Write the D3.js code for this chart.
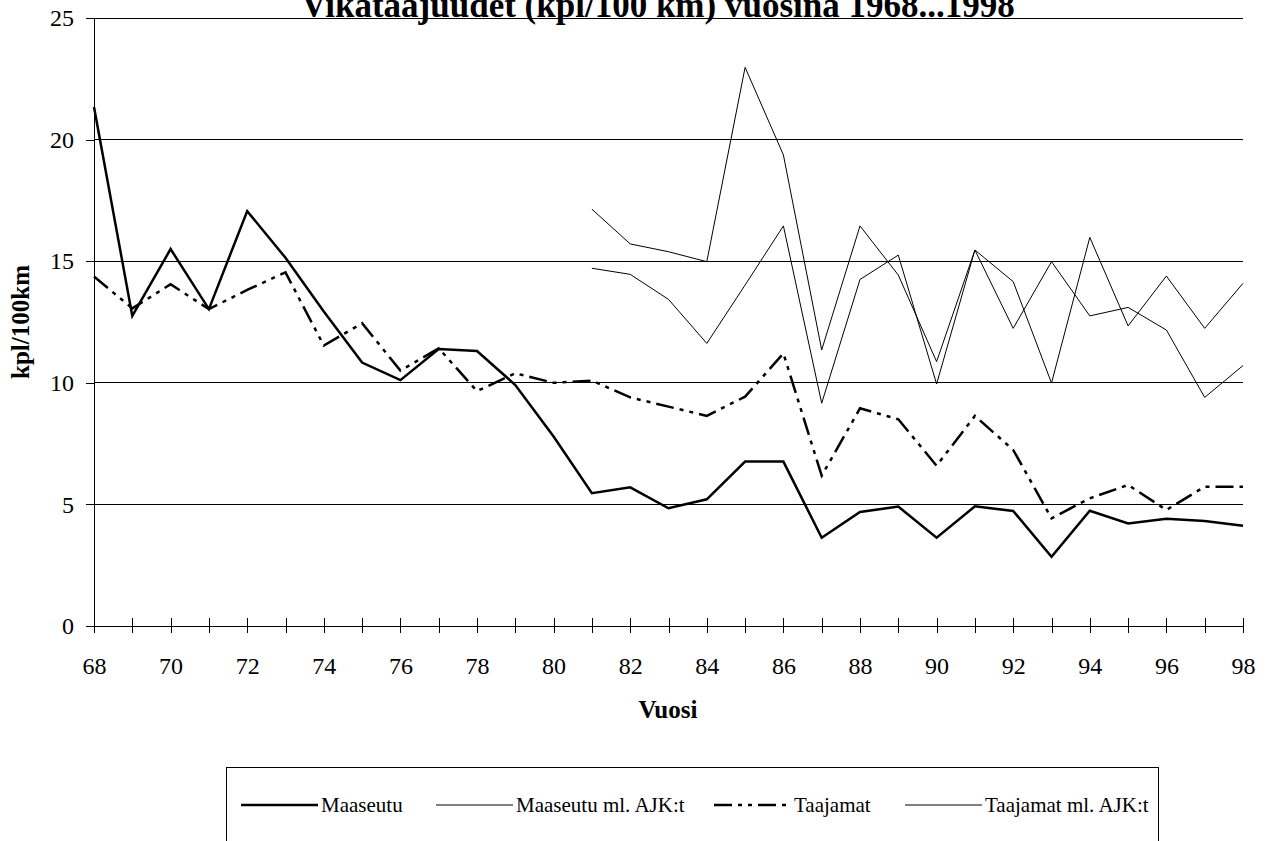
<!DOCTYPE html>
<html>
<head>
<meta charset="utf-8">
<script src="https://cdn.jsdelivr.net/npm/d3@7"></script>
<style>
body { margin: 0; background: #fff; }
svg text { font-family: "Liberation Serif", "Times New Roman", serif; fill: #000; }
</style>
</head>
<body>
<div id="app"></div>
<script>
// vuodet 1968...1998
const years = [68, 69, 70, 71, 72, 73, 74, 75, 76, 77, 78, 79, 80, 81, 82, 83,
    84, 85, 86, 87, 88, 89, 90, 91, 92, 93, 94, 95, 96, 97, 98];
const yTicks = [0, 5, 10, 15, 20, 25];

const maaseutu = [21.34, 12.75, 15.5, 13.03, 17.06, 15.14, 12.93, 10.83, 10.11, 11.39,
    11.31, 9.91, 7.79, 5.46, 5.70, 4.84, 5.21, 6.76, 6.76, 3.63, 4.69, 4.91, 3.63,
    4.92, 4.73, 2.85, 4.74, 4.22, 4.41, 4.32, 4.12];
const maaseutuAJK = [null, null, null, null, null, null, null, null, null, null, null,
    null, null, 17.14, 15.71, 15.39, 14.98, 22.97, 19.37, 11.35, 16.45, 14.43, 10.87,
    15.46, 14.16, 9.99, 15.98, 12.34, 14.39, 12.24, 14.09];
const taajamat = [14.37, 13.06, 14.05, 13.03, 13.82, 14.54, 11.53, 12.45, 10.5, 11.42,
    9.66, 10.39, 10.0, 10.09, 9.40, 9.02, 8.64, 9.43, 11.21, 6.18, 8.95, 8.50, 6.59,
    8.64, 7.24, 4.43, 5.25, 5.80, 4.77, 5.73, 5.73];
const taajamatAJK = [null, null, null, null, null, null, null, null, null, null, null,
    null, null, 14.71, 14.46, 13.43, 11.62, 14.02, 16.45, 9.16, 14.25, 15.25, 9.95,
    15.46, 12.24, 14.98, 12.75, 13.1, 12.17, 9.40, 10.71];

const bounds = { left: 94, right: 1243, top: 18, bottom: 626 };
const serif = '"Liberation Serif", "Times New Roman", serif';

const svg = d3.select('#app')
    .append('svg')
    .attr('width', 1269)
    .attr('height', 841);

const xScale = d3.scaleLinear().domain([68, 98]).range([bounds.left, bounds.right]);
const yScale = d3.scaleLinear().domain([0, 25]).range([bounds.bottom, bounds.top]);

// vaakaviivat
svg.append('g')
    .selectAll('line')
    .data(yTicks.filter(d => d > 0))
    .join('line')
    .attr('x1', bounds.left)
    .attr('x2', bounds.right)
    .attr('y1', d => yScale(d))
    .attr('y2', d => yScale(d))
    .attr('stroke', '#000')
    .attr('shape-rendering', 'crispEdges');

// y-akseli
const yAxis = svg.append('g')
    .attr('transform', `translate(${bounds.left},0)`)
    .attr('font-family', serif)
    .call(d3.axisLeft(yScale).tickValues(yTicks).tickSize(8).tickSizeOuter(0).tickPadding(12));
yAxis.selectAll('text').attr('font-size', 24);
yAxis.selectAll('line, path').attr('shape-rendering', 'crispEdges');

// x-akseli
const xAxis = svg.append('g')
    .attr('transform', `translate(0,${bounds.bottom})`)
    .attr('font-family', serif)
    .call(d3.axisBottom(xScale)
        .tickValues(years)
        .tickSize(7)
        .tickSizeOuter(0)
        .tickFormat(d => d % 2 === 0 ? d : ''));
xAxis.selectAll('.tick line').attr('y1', -8);
xAxis.selectAll('text').attr('font-size', 24).attr('dy', 0).attr('y', 48);
xAxis.selectAll('line, path').attr('shape-rendering', 'crispEdges');

// otsikot
svg.append('text')
    .attr('x', 658)
    .attr('y', 17)
    .attr('text-anchor', 'middle')
    .attr('font-size', 35)
    .attr('font-weight', 'bold')
    .text('Vikataajuudet (kpl/100 km) vuosina 1968...1998');

svg.append('text')
    .attr('x', 668)
    .attr('y', 718)
    .attr('text-anchor', 'middle')
    .attr('font-size', 25)
    .attr('font-weight', 'bold')
    .text('Vuosi');

svg.append('text')
    .attr('transform', 'translate(29,322) rotate(-90)')
    .attr('text-anchor', 'middle')
    .attr('font-size', 25)
    .attr('font-weight', 'bold')
    .text('kpl/100km');

// sarjat
const series = [
    { name: 'Maaseutu', values: maaseutu, width: 2.5, dash: null },
    { name: 'Maaseutu ml. AJK:t', values: maaseutuAJK, width: 1, dash: null },
    { name: 'Taajamat', values: taajamat, width: 2.5, dash: '18,6,4,6,4,6' },
    { name: 'Taajamat ml. AJK:t', values: taajamatAJK, width: 1, dash: null }
];

const line = d3.line()
    .defined(d => d.v != null)
    .x(d => xScale(d.year))
    .y(d => yScale(d.v));

const drawOrder = [series[1], series[3], series[2], series[0]];
svg.append('g')
    .selectAll('path')
    .data(drawOrder)
    .join('path')
    .attr('fill', 'none')
    .attr('stroke', '#000')
    .attr('stroke-width', d => d.width)
    .attr('stroke-dasharray', d => d.dash)
    .attr('stroke-linejoin', 'miter')
    .attr('d', d => line(years.map((y, i) => ({ year: y, v: d.values[i] }))));

// selite
const legend = svg.append('g');
legend.append('rect')
    .attr('x', 226.5)
    .attr('y', 767.5)
    .attr('width', 932)
    .attr('height', 140)
    .attr('fill', 'none')
    .attr('stroke', '#000');

const legendX = [241, 436, 714, 905];
const items = legend.selectAll('.item')
    .data(series)
    .join('g')
    .attr('class', 'item')
    .attr('transform', (d, i) => `translate(${legendX[i]},805)`);
items.append('line')
    .attr('x1', 0)
    .attr('x2', 77)
    .attr('stroke', '#000')
    .attr('stroke-width', d => d.width)
    .attr('stroke-dasharray', d => d.dash);
items.append('text')
    .attr('x', 80)
    .attr('y', 7)
    .attr('font-size', 21)
    .text(d => d.name);
</script>
</body>
</html>
